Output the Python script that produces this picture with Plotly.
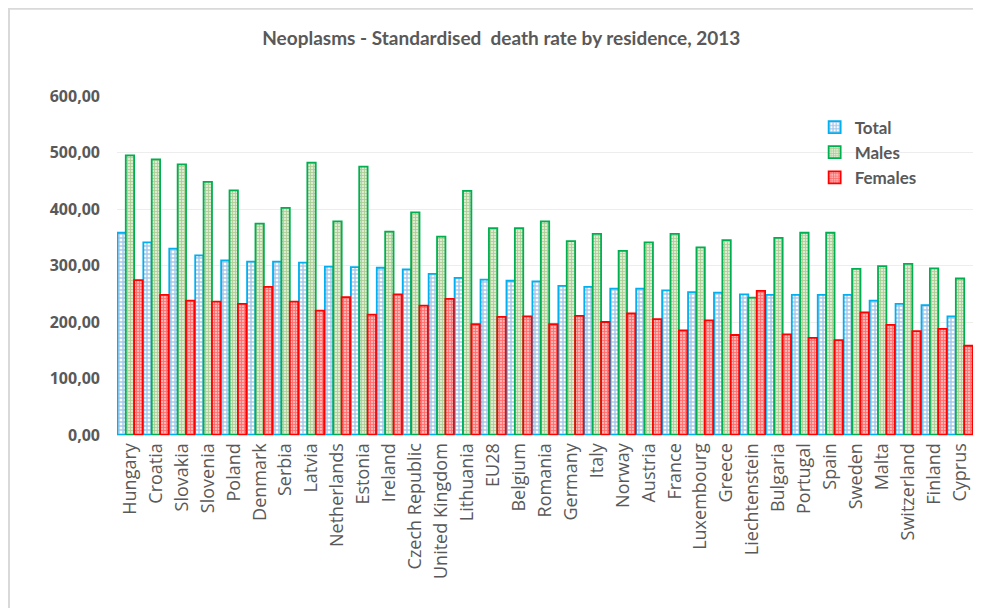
import plotly.graph_objects as go

countries = ["Hungary", "Croatia", "Slovakia", "Slovenia", "Poland", "Denmark", "Serbia",
             "Latvia", "Netherlands", "Estonia", "Ireland", "Czech Republic", "United Kingdom",
             "Lithuania", "EU28", "Belgium", "Romania", "Germany", "Italy", "Norway", "Austria",
             "France", "Luxembourg", "Greece", "Liechtenstein", "Bulgaria", "Portugal", "Spain",
             "Sweden", "Malta", "Switzerland", "Finland", "Cyprus"]

total = [358, 341, 330, 318, 309, 307, 307, 305, 298, 297, 296, 293, 285, 278, 275, 273,
         272, 264, 262, 259, 259, 256, 253, 252, 249, 248, 248, 248, 248, 238, 232, 230, 210]
males = [495, 488, 479, 448, 433, 374, 402, 482, 378, 475, 360, 394, 351, 432, 366, 366,
         378, 343, 356, 326, 341, 356, 332, 345, 243, 349, 358, 358, 294, 299, 303, 295, 277]
females = [274, 248, 238, 236, 232, 262, 236, 220, 244, 213, 249, 229, 241, 196, 209, 210,
           196, 211, 200, 215, 205, 185, 203, 177, 255, 178, 172, 168, 217, 195, 184, 188, 158]

yticks = [0, 100, 200, 300, 400, 500, 600]

fig = go.Figure()
fig.add_trace(go.Bar(
    name="Total", x=countries, y=total,
    marker=dict(color="#FFFFFF",
                line=dict(color="#00B0F0", width=1.8),
                pattern=dict(shape="+", fgcolor="#4F8FD0", bgcolor="#FFFFFF",
                             size=4, solidity=0.6)),
))
fig.add_trace(go.Bar(
    name="Males", x=countries, y=males,
    marker=dict(color="#FFFFFF",
                line=dict(color="#00B050", width=1.8),
                pattern=dict(shape="+", fgcolor="#7FAF5A", bgcolor="#DDEBD2",
                             size=3, solidity=0.5)),
))
fig.add_trace(go.Bar(
    name="Females", x=countries, y=females,
    marker=dict(color="#FFFFFF",
                line=dict(color="#FF0000", width=1.8),
                pattern=dict(shape="+", fgcolor="#FF2A2A", bgcolor="#FFB3B3",
                             size=3, solidity=0.5)),
))

grey = "#595959"
fig.update_layout(
    width=973, height=600,
    paper_bgcolor="#FFFFFF", plot_bgcolor="#FFFFFF",
    margin=dict(l=109, r=8, t=88, b=173),
    barmode="group", bargap=0.03, bargroupgap=0.0,
    separators=", ",
    title=dict(text="Neoplasms - Standardised  death rate by residence, 2013",
               x=0.507, xanchor="center", y=0.95, yanchor="middle",
               font=dict(family="Lato", size=19, color=grey, weight="bold")),
    legend=dict(x=0.815, y=0.96, xanchor="left", yanchor="top",
                font=dict(family="Lato", size=17, color=grey, weight="bold"),
                bgcolor="rgba(0,0,0,0)", tracegroupgap=0, itemwidth=30),
    showlegend=True,
    xaxis=dict(tickangle=-90, tickfont=dict(family="Open Sans", size=18, color=grey),
               showline=True, linecolor="#D9D9D9", linewidth=1, ticks="",
               showgrid=False),
    yaxis=dict(range=[0, 600], tickvals=yticks, tickformat=".2f",
               tickfont=dict(family="Open Sans", size=16, color=grey, weight="bold"),
               showgrid=True, gridcolor="#EDEDED", gridwidth=1,
               zeroline=False, showline=False, ticks="", ticklabelstandoff=16),
    shapes=[dict(type="rect", xref="paper", yref="paper",
                 x0=-108 / 856, x1=900 / 856, y0=-200 / 338, y1=425 / 338,
                 line=dict(color="#D9D9D9", width=2), layer="below")],
)

fig.write_html("out.html")
